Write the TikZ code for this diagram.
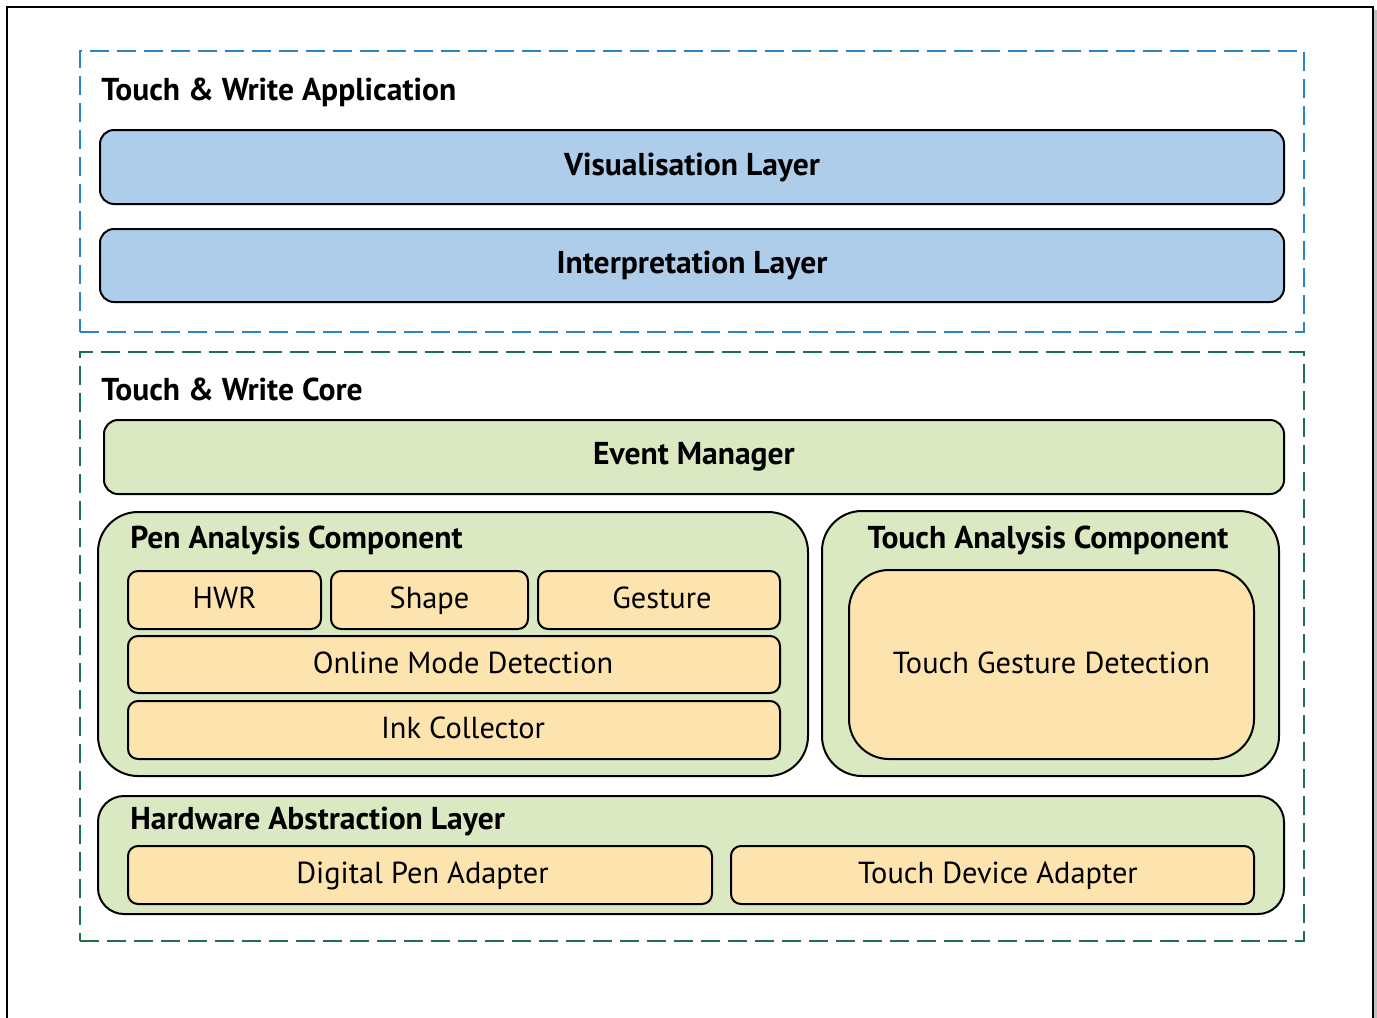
\documentclass[tikz,border=0pt]{standalone}
\usepackage{fontspec}
\setmainfont{PT Sans}
\usetikzlibrary{calc}

\definecolor{appblue}{RGB}{44,132,198}
\definecolor{coregreen}{RGB}{31,112,72}
\definecolor{layerblue}{RGB}{174,205,235}
\definecolor{compgreen}{RGB}{219,233,195}
\definecolor{modorange}{RGB}{253,228,175}

\begin{document}
\begin{tikzpicture}[x=0.5pt,y=-0.5pt,font=\fontsize{15.2}{17}\selectfont,
    frame/.style={draw,line width=1.4pt,dash pattern=on 9.5pt off 4pt,inner sep=0pt},
    layer/.style={draw=black,line width=1pt,fill=layerblue,rounded corners=7pt,inner sep=0pt,font=\fontsize{15.8}{18}\selectfont\bfseries},
    comp/.style={draw=black,line width=1pt,fill=compgreen,rounded corners=20pt,inner sep=0pt},
    module/.style={draw=black,line width=1pt,fill=modorange,rounded corners=5pt,inner sep=0pt,minimum height=29pt,text height=2ex,text depth=0.21ex},
    nudge/.style={execute at begin node={\hspace*{#1}}},
    title/.style={anchor=west,inner sep=0pt,font=\fontsize{15.8}{18}\selectfont\bfseries}]

    \useasboundingbox (0,0) rectangle (1377,1018);

    % Page frame
    \draw[gray!50,line width=2pt] (1376,10) -- (1376,1018);
    \draw[line width=1pt] (7,1018) -- (7,7) -- (1373,7) -- (1373,1018);

    % Place the application part
    \node[frame,draw=appblue,minimum width=612pt,minimum height=140.5pt] (app) at (692,191.5) {};
    \node[title] (apptitle) at (101,92) {Touch \& Write Application};
    \node[layer,minimum width=592pt,minimum height=37pt] (vis) at (692,167) {Visualisation Layer};
    \node[layer,minimum width=592pt,minimum height=36.5pt] (interp) at (692,265.5) {Interpretation Layer};

    % Place the core part
    \node[frame,draw=coregreen,minimum width=612pt,minimum height=294.5pt] (core) at (692,646.5) {};
    \node[title] (coretitle) at (101,389) {Touch \& Write Core};
    \node[comp,rounded corners=7pt,minimum width=590pt,minimum height=37pt,font=\fontsize{15.8}{18}\selectfont\bfseries] (events) at (694,457) {Event Manager};

    % Pen analysis component
    \node[comp,minimum width=355pt,minimum height=132pt] (pen) at (453,644) {};
    \node[title] (pentitle) at (130,540) {Pen Analysis Component};
    \node[module,minimum width=96.5pt] (hwr) at (224.5,600) {HWR};
    \node[module,minimum width=98.5pt] (shape) at (429.5,600) {Shape};
    \node[module,minimum width=121pt,nudge=3pt] (gesture) at (659,600) {Gesture};
    \node[module,minimum width=326pt,minimum height=28.5pt,nudge=9pt] (online) at (454,664.5) {Online Mode Detection};
    \node[module,minimum width=326pt,nudge=9pt] (ink) at (454,730) {Ink Collector};

    % Touch analysis component
    \node[comp,minimum width=228.5pt,minimum height=132.5pt] (touch) at (1050.5,643.5) {};
    \node[title,anchor=center] (touchtitle) at (1048,540) {Touch Analysis Component};
    \node[module,rounded corners=20pt,minimum width=202.5pt,minimum height=94.5pt] (tgd) at (1051.5,664.5) {Touch Gesture Detection};

    % Hardware abstraction layer
    \node[comp,rounded corners=13pt,minimum width=593pt,minimum height=59pt] (hal) at (691,855) {};
    \node[title] (haltitle) at (130,821) {Hardware Abstraction Layer};
    \node[module,minimum width=292pt,nudge=2.5pt] (penadapt) at (420,875) {Digital Pen Adapter};
    \node[module,minimum width=261.5pt,nudge=5.5pt] (touchadapt) at (992.5,875) {Touch Device Adapter};

\end{tikzpicture}
\end{document}
